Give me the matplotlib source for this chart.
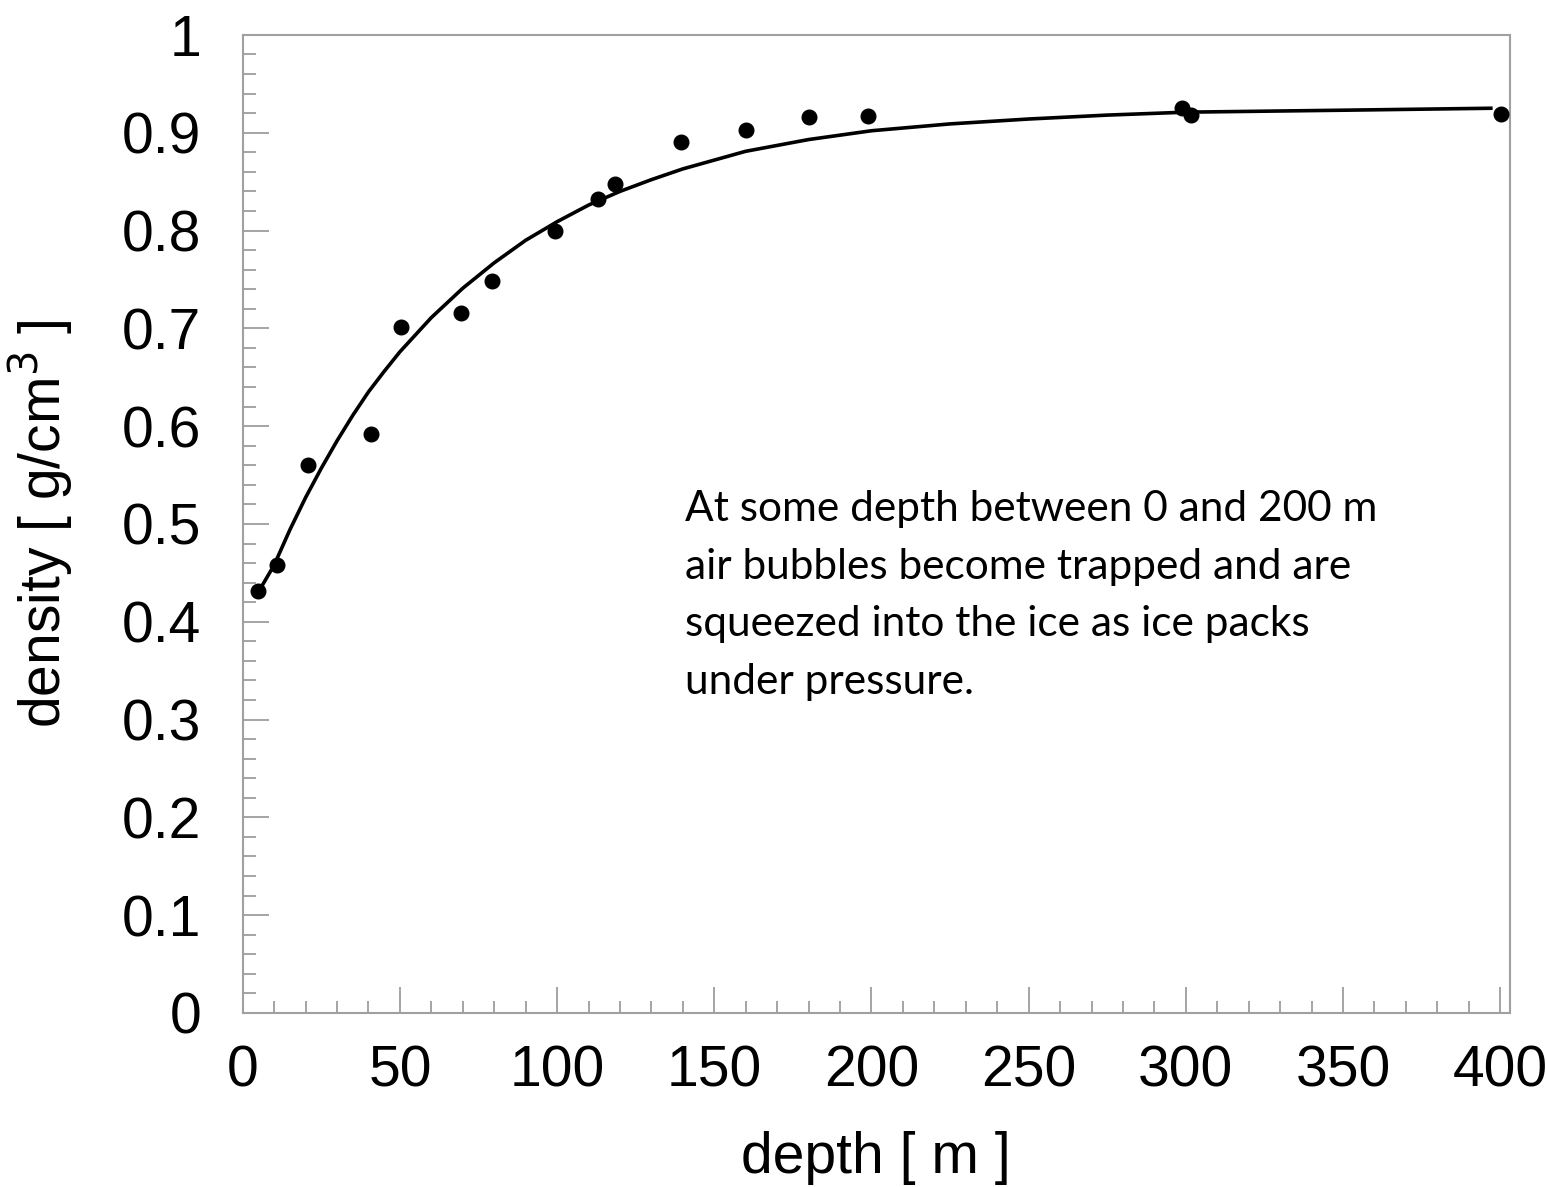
import numpy as np
import matplotlib
matplotlib.use("Agg")
import matplotlib.pyplot as plt
from matplotlib.ticker import MultipleLocator

# measured points
depth = [4.8, 10.8, 20.7, 40.8, 50.3, 69.4, 79.3, 99.4, 113, 118.5,
         139.5, 160, 180, 199, 298.7, 301.6, 400.3]
density = [0.431, 0.458, 0.56, 0.592, 0.701, 0.716, 0.748, 0.80, 0.832, 0.848,
           0.89, 0.903, 0.916, 0.917, 0.925, 0.918, 0.919]

# fitted curve
fit_depth = [6, 10, 15, 20, 25, 30, 35, 40, 45, 50, 60, 70, 80, 90, 100, 110,
             120, 130, 140, 160, 180, 200, 225, 250, 275, 300, 350, 397]
fit_density = [0.436, 0.458, 0.494, 0.527, 0.557, 0.585, 0.611, 0.635, 0.656,
               0.676, 0.711, 0.741, 0.767, 0.790, 0.809, 0.826, 0.840, 0.852,
               0.863, 0.881, 0.893, 0.902, 0.909, 0.914, 0.918, 0.921, 0.923, 0.925]

ytick_labels = ['0', '0.1', '0.2', '0.3', '0.4', '0.5', '0.6', '0.7', '0.8', '0.9', '1']

note = ("At some depth between 0 and 200 m\n"
        "air bubbles become trapped and are\n"
        "squeezed into the ice as ice packs\n"
        "under pressure.")

plt.rcParams['font.family'] = ['Liberation Sans', 'DejaVu Sans']

fig = plt.figure(figsize=(15.46, 11.87), dpi=100)
ax = fig.add_axes([0.157, 0.1466, 0.8195, 0.824])

ax.plot(fit_depth, fit_density, color='black', lw=2.6, zorder=2,
        solid_joinstyle='round')
ax.plot(depth, density, 'o', color='black', ms=10.5, zorder=3)

ax.set_xlim(0, 403)
ax.set_ylim(0, 1)
ax.xaxis.set_major_locator(MultipleLocator(50))
ax.xaxis.set_minor_locator(MultipleLocator(10))
ax.yaxis.set_minor_locator(MultipleLocator(0.02))
ax.set_yticks(np.arange(0, 1.01, 0.1))
ax.set_yticklabels(ytick_labels)

gray = '#8c8c8c'
for s in ax.spines.values():
    s.set_color('#a0a0a0')
    s.set_linewidth(1.5)
ax.tick_params(which='both', direction='in', color=gray, width=1.1,
               top=False, right=False)
ax.tick_params(which='major', length=19, labelsize=41)
ax.tick_params(which='minor', length=9)
ax.tick_params(axis='y', which='major', pad=30)
ax.tick_params(axis='x', which='major', pad=23)

ax.set_xlabel('depth [ m ]', fontsize=41)
ax.set_ylabel('density [ g/cm$^3$ ]', fontsize=41)
ax.xaxis.set_label_coords(0.5, -0.121)
ax.yaxis.set_label_coords(-0.132, 0.5)

fig.text(0.443, 0.5872, note, fontsize=30.5, family=['Lato', 'DejaVu Sans'],
         va='top', ha='left', linespacing=1.63)

fig.savefig('out.png', dpi=100)
